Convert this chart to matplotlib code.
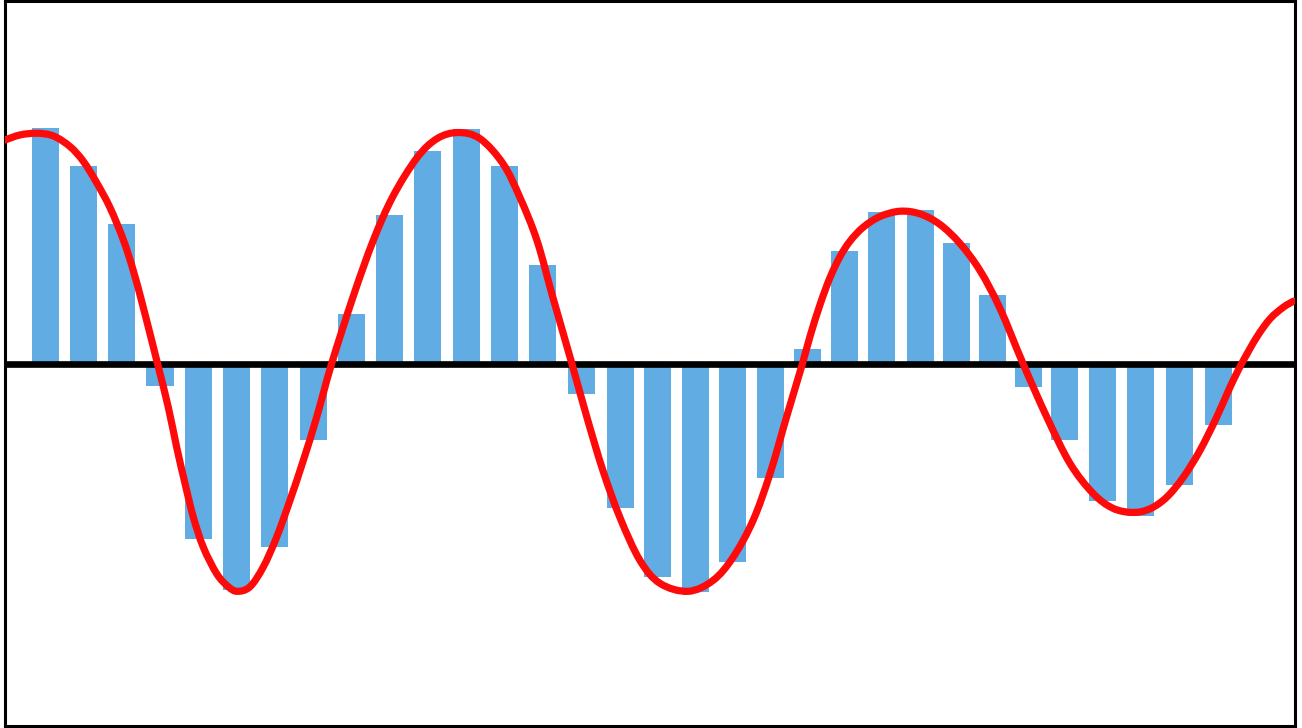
import matplotlib
matplotlib.use("Agg")
import matplotlib.pyplot as plt
from matplotlib.path import Path
from matplotlib.patches import PathPatch

# sample times of the bars (in sample units)
sample_t = [0.0, 1.004, 2.008, 3.026, 4.043, 5.048, 6.052, 7.082,
            8.087, 9.091, 10.108, 11.126, 12.130, 13.134, 14.165, 15.196,
            16.173, 17.178, 18.156, 19.160, 20.137, 21.115, 22.093, 23.124,
            24.075, 25.026, 25.978, 26.929, 27.933, 28.938, 29.968, 31.0]
# sampled values (bars)
sample_values = [0.977, 0.820, 0.576, -0.094, -0.727, -0.940, -0.760, -0.318,
                 0.207, 0.617, 0.882, 0.973, 0.820, 0.410, -0.127, -0.599,
                 -0.885, -0.947, -0.823, -0.475, 0.062, 0.468, 0.629, 0.634,
                 0.501, 0.282, -0.098, -0.318, -0.570, -0.632, -0.504, -0.255]

# continuous signal
signal_t = [-1.070, -0.674, -0.233, 0.206, 0.647, 0.999, 1.353, 1.705, 2.056, 2.320,
            2.585, 2.960, 3.245, 3.467, 3.687, 3.906, 4.170, 4.524, 4.831, 5.069,
            5.404, 5.756, 6.110, 6.461, 6.813, 7.167, 7.563,
            8.13, 8.66, 9.18, 9.82, 10.35, 10.90, 11.48, 12.09, 12.54, 12.99,
            13.41, 13.91, 14.31, 14.73, 15.18, 15.71, 16.24, 16.98, 17.64, 18.17,
            18.70, 19.15, 19.596, 20.005, 20.203, 20.468, 20.732, 20.997, 21.261, 21.612,
            22.053, 22.582, 23.110, 23.639, 24.168, 24.696, 25.225, 25.832, 26.467, 27.074,
            27.682, 28.211, 28.740, 29.189, 29.630, 30.069, 30.510, 30.951, 31.303, 31.612,
            32.009, 32.360, 32.711, 32.976]
signal_v = [0.926, 0.947, 0.954, 0.943, 0.899, 0.838, 0.749, 0.646, 0.513, 0.385,
            0.232, 0.0, -0.181, -0.347, -0.497, -0.636, -0.761, -0.871, -0.925, -0.944,
            -0.925, -0.843, -0.719, -0.567, -0.402, -0.222, 0.0,
            0.277, 0.509, 0.692, 0.853, 0.932, 0.957, 0.932, 0.828, 0.687, 0.509,
            0.273, 0.0, -0.224, -0.443, -0.638, -0.816, -0.911, -0.944, -0.899, -0.803,
            -0.650, -0.455, -0.215, 0.0, 0.112, 0.244, 0.356, 0.443, 0.507, 0.565,
            0.609, 0.631, 0.620, 0.576, 0.497, 0.385, 0.228, 0.0, -0.224, -0.414,
            -0.538, -0.600, -0.617, -0.602, -0.554, -0.471, -0.360, -0.222, -0.098, 0.0,
            0.109, 0.185, 0.233, 0.258]


def smooth_path(xs, ys):
    # catmull-rom through the points, drawn as cubic bezier segments
    pts = list(zip(xs, ys))
    pts = [pts[0]] + pts + [pts[-1]]
    verts = [pts[1]]
    codes = [Path.MOVETO]
    for i in range(1, len(pts) - 2):
        p0, p1, p2, p3 = pts[i - 1], pts[i], pts[i + 1], pts[i + 2]
        c1 = (p1[0] + (p2[0] - p0[0]) / 6, p1[1] + (p2[1] - p0[1]) / 6)
        c2 = (p2[0] - (p3[0] - p1[0]) / 6, p2[1] - (p3[1] - p1[1]) / 6)
        verts += [c1, c2, p2]
        codes += [Path.CURVE4] * 3
    return Path(verts, codes)


fig = plt.figure(figsize=(13.02, 7.28), dpi=100)
ax = fig.add_axes([0.00346, 0.00343, 0.99078, 0.99451])

ax.bar(sample_t, sample_values, width=0.714, color='#60ace3', zorder=1)
ax.axhline(0, color='black', linewidth=4.8, zorder=2)
curve = PathPatch(smooth_path(signal_t, signal_v), facecolor='none',
                  edgecolor='#ff0a0a', linewidth=5.2, capstyle='round',
                  joinstyle='round', zorder=3)
ax.add_patch(curve)

ax.set_xlim(-1.083, 33.007)
ax.set_ylim(-1.5, 1.5)
ax.set_xticks([])
ax.set_yticks([])
for side in ax.spines.values():
    side.set_linewidth(2.2)
    side.set_color('black')

fig.savefig("out.png", dpi=100)
